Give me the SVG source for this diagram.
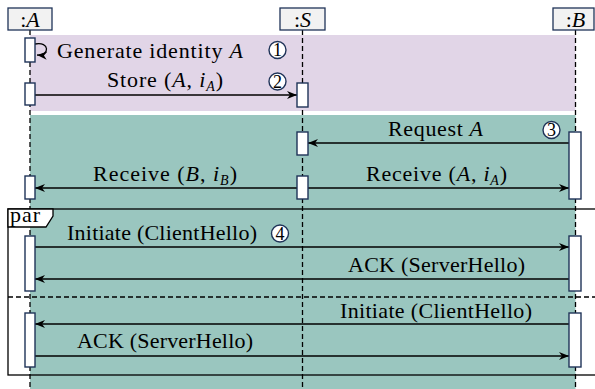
<svg xmlns="http://www.w3.org/2000/svg" width="595" height="389" viewBox="0 0 595 389" font-family="'Liberation Serif', 'DejaVu Serif', 'Times New Roman', serif">
  <defs>
    <marker id="arrow" markerUnits="userSpaceOnUse" markerWidth="12" markerHeight="10" refX="10" refY="5" orient="auto">
      <path d="M0,1 L10,5 L0,9 L3,5 z" fill="#000"/>
    </marker>
    <style>
      text { font-family: "Liberation Serif", "DejaVu Serif", serif; font-size: 22px; fill: #000; }
      .it { font-style: italic; }
      .sub { font-size: 14px; font-style: italic; }
      .mid { text-anchor: middle; }
      .head { fill: #f2f2f2; stroke: #1f3358; stroke-width: 1.3; }
      .act { fill: #fff; stroke: #1f3358; stroke-width: 1.4; }
      .life { stroke: #000; stroke-width: 1.3; stroke-dasharray: 5 3; fill: none; }
      .msg { stroke: #000; stroke-width: 1.3; fill: none; marker-end: url(#arrow); }
      .num circle { fill: #fff; stroke: #1f3358; stroke-width: 1.4; }
      .num text { font-size: 18px; text-anchor: middle; }
      .frame { fill: none; stroke: #000; stroke-width: 1.3; }
    </style>
  </defs>

  <!-- phase backgrounds -->
  <rect x="30" y="35" width="545.5" height="76" fill="#e1d5e7"/>
  <rect x="30" y="115" width="545.5" height="274" fill="#9ac6bf"/>

  <!-- lifelines -->
  <g id="lifelines">
    <line class="life" x1="30" y1="30" x2="30" y2="389"/>
    <line class="life" x1="302.5" y1="30" x2="302.5" y2="389"/>
    <line class="life" x1="575.5" y1="30" x2="575.5" y2="389"/>
  </g>

  <!-- par combined fragment -->
  <g id="par-frame">
    <rect class="frame" x="8" y="209" width="640" height="166"/>
    <line class="frame" x1="8" y1="297" x2="595" y2="297" stroke-dasharray="5 3"/>
    <path d="M8,209 L53,209 L53,216 L46,227 L8,227 z" fill="#fff" stroke="#000" stroke-width="1.3"/>
    <text x="10" y="222" textLength="30">par</text>
  </g>

  <!-- participants -->
  <g id="node-A">
    <rect class="head" x="8" y="8" width="44" height="22"/>
    <text class="mid" x="30" y="27">:<tspan class="it">A</tspan></text>
  </g>
  <g id="node-S">
    <rect class="head" x="280" y="8" width="45" height="22"/>
    <text class="mid" x="302.5" y="27">:<tspan class="it">S</tspan></text>
  </g>
  <g id="node-B">
    <rect class="head" x="553" y="8" width="41" height="22"/>
    <text class="mid" x="575.5" y="27">:<tspan class="it">B</tspan></text>
  </g>

  <!-- messages -->
  <g id="connectors">
    <path class="msg" d="M35,44 C50,41 50,56 37,55"/>
    <line class="msg" x1="35" y1="95" x2="297" y2="95"/>
    <line class="msg" x1="569" y1="143" x2="308" y2="143"/>
    <line class="msg" x1="297" y1="188" x2="35" y2="188"/>
    <line class="msg" x1="308" y1="188" x2="569" y2="188"/>
    <line class="msg" x1="35" y1="247" x2="569" y2="247"/>
    <line class="msg" x1="569" y1="279" x2="35" y2="279"/>
    <line class="msg" x1="569" y1="324" x2="35" y2="324"/>
    <line class="msg" x1="35" y1="356" x2="569" y2="356"/>
  </g>

  <!-- activations -->
  <g id="activations">
    <rect class="act" x="25" y="38" width="10" height="24"/>
    <rect class="act" x="25" y="83" width="10" height="22"/>
    <rect class="act" x="297" y="83" width="11" height="24"/>
    <rect class="act" x="297" y="132" width="11" height="23"/>
    <rect class="act" x="569" y="132" width="12" height="67"/>
    <rect class="act" x="25" y="176" width="10" height="23"/>
    <rect class="act" x="297" y="176" width="11" height="23"/>
    <rect class="act" x="25" y="236" width="10" height="55"/>
    <rect class="act" x="569" y="236" width="12" height="55"/>
    <rect class="act" x="25" y="313" width="10" height="54"/>
    <rect class="act" x="569" y="313" width="12" height="54"/>
  </g>

  <!-- message labels -->
  <g id="labels">
    <text x="57" y="58" textLength="186">Generate identity <tspan class="it">A</tspan></text>
    <text x="107" y="87" textLength="116">Store (<tspan class="it">A</tspan>, <tspan class="it">i</tspan><tspan class="sub" dy="4">A</tspan><tspan dy="-4">)</tspan></text>
    <text x="388" y="136" textLength="95">Request <tspan class="it">A</tspan></text>
    <text x="93" y="181" textLength="144">Receive (<tspan class="it">B</tspan>, <tspan class="it">i</tspan><tspan class="sub" dy="4">B</tspan><tspan dy="-4">)</tspan></text>
    <text x="366" y="181" textLength="141">Receive (<tspan class="it">A</tspan>, <tspan class="it">i</tspan><tspan class="sub" dy="4">A</tspan><tspan dy="-4">)</tspan></text>
    <text x="67" y="240" textLength="190">Initiate (ClientHello)</text>
    <text x="348" y="272" textLength="177">ACK (ServerHello)</text>
    <text x="340" y="318" textLength="192">Initiate (ClientHello)</text>
    <text x="77" y="348" textLength="176">ACK (ServerHello)</text>
  </g>

  <!-- step markers -->
  <g id="step-1" class="num"><circle cx="277.5" cy="50" r="8.5"/><text x="277.5" y="56">1</text></g>
  <g id="step-2" class="num"><circle cx="277.5" cy="81.5" r="8.5"/><text x="277.5" y="87.5">2</text></g>
  <g id="step-3" class="num"><circle cx="551.5" cy="130" r="8.5"/><text x="551.5" y="136">3</text></g>
  <g id="step-4" class="num"><circle cx="280" cy="233.5" r="8.5"/><text x="280" y="239.5">4</text></g>
</svg>
